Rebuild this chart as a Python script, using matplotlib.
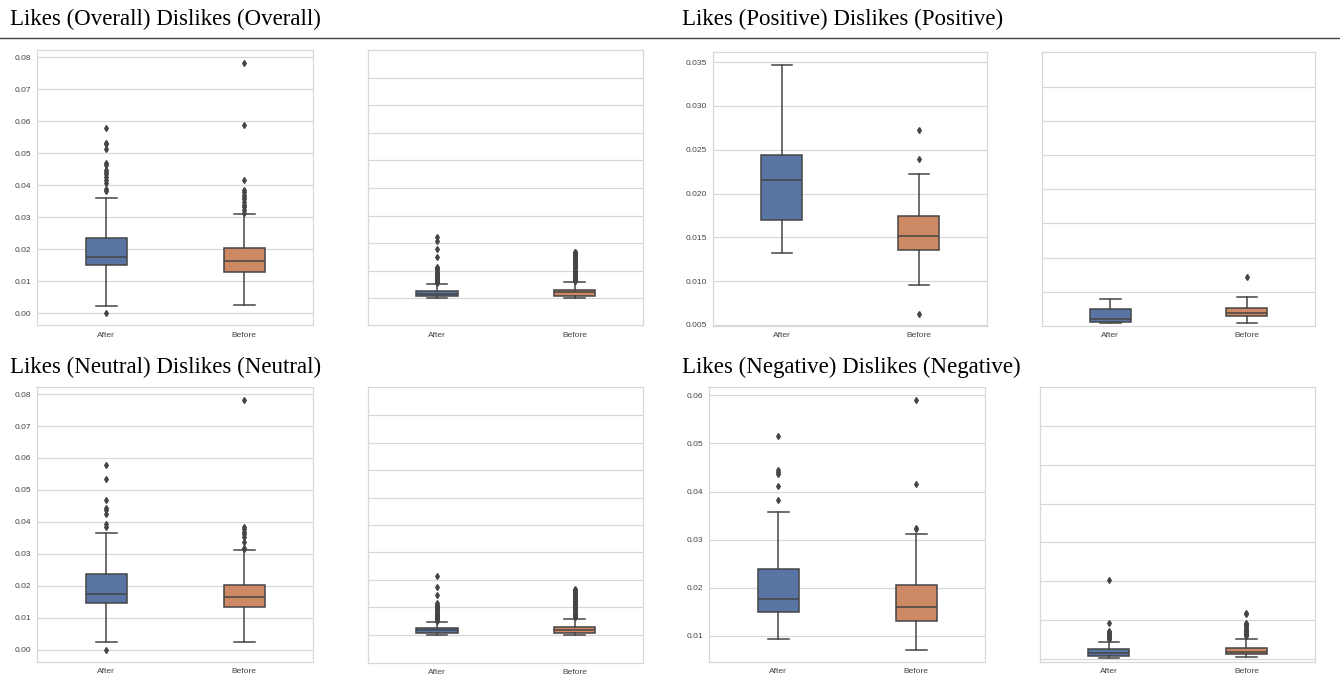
import matplotlib
matplotlib.use('Agg')
import matplotlib.pyplot as plt

# box stats per group: [whisker low, q1, median, q3, whisker high]
groups = ['After', 'Before']

likes_overall = {'After': [0.0023, 0.0149, 0.0176, 0.0234, 0.0361],
                 'Before': [0.0025, 0.0130, 0.0162, 0.0203, 0.0309]}
likes_overall_fliers = {'After': [0.0577, 0.0533, 0.0528, 0.0514, 0.0468, 0.0462, 0.0447, 0.0442,
                                  0.0436, 0.0426, 0.0416, 0.0407, 0.0387, 0.0381, 0.0001],
                        'Before': [0.0782, 0.0589, 0.0416, 0.0384, 0.0377, 0.0369, 0.0362, 0.0355,
                                   0.0347, 0.0338, 0.0330, 0.0322, 0.0314]}

dislikes_overall = {'After': [0.0002, 0.0008, 0.0016, 0.00275, 0.0051],
                    'Before': [0.0002, 0.00094, 0.0021, 0.0030, 0.0058]}
dislikes_overall_fliers = {'After': [0.0223, 0.0209, 0.0178, 0.0149, 0.0114, 0.0109, 0.0105, 0.0101,
                                     0.0097, 0.0093, 0.0090, 0.0086, 0.0083, 0.0080, 0.0077, 0.0074,
                                     0.0071, 0.0068, 0.0065, 0.0062, 0.0060, 0.0058, 0.0056],
                           'Before': [0.0169, 0.0166, 0.0163, 0.0160, 0.0158, 0.0155, 0.0152, 0.0149,
                                      0.0146, 0.0143, 0.0140, 0.0136, 0.0133, 0.0130, 0.0126, 0.0122,
                                      0.0119, 0.0115, 0.0112, 0.0108, 0.0104, 0.0100, 0.0097, 0.0093,
                                      0.0090, 0.0086, 0.0083, 0.0080, 0.0077, 0.0074, 0.0071, 0.0068,
                                      0.0066, 0.0064, 0.0062]}

likes_positive = {'After': [0.0132, 0.0170, 0.0215, 0.0244, 0.0347],
                  'Before': [0.0096, 0.0136, 0.0151, 0.0174, 0.0222]}
likes_positive_fliers = {'After': [],
                         'Before': [0.0272, 0.0239, 0.0063]}

dislikes_positive = {'After': [0.00048, 0.00058, 0.0010, 0.0025, 0.0039],
                     'Before': [0.00048, 0.0015, 0.00185, 0.0026, 0.0043]}
dislikes_positive_fliers = {'After': [],
                            'Before': [0.0071]}

likes_neutral = {'After': [0.0024, 0.0146, 0.0176, 0.0236, 0.0364],
                 'Before': [0.0026, 0.0133, 0.0166, 0.0204, 0.0311]}
likes_neutral_fliers = {'After': [0.0579, 0.0533, 0.0469, 0.0445, 0.0437, 0.0424, 0.0393, 0.0385, 0.0001],
                        'Before': [0.0782, 0.0385, 0.0377, 0.0369, 0.0362, 0.0354, 0.0338, 0.0320, 0.0315]}

dislikes_neutral = {'After': [0.0001, 0.0007, 0.0017, 0.0025, 0.0046],
                    'Before': [0.0001, 0.00085, 0.0019, 0.0028, 0.0057]}
dislikes_neutral_fliers = {'After': [0.0215, 0.0176, 0.0144, 0.0115, 0.0110, 0.0106, 0.0102, 0.0098,
                                     0.0094, 0.0090, 0.0086, 0.0082, 0.0078, 0.0075, 0.0071, 0.0068,
                                     0.0064, 0.0061, 0.0058, 0.0055, 0.0052, 0.0049],
                           'Before': [0.0166, 0.0163, 0.0160, 0.0157, 0.0154, 0.0151, 0.0148, 0.0145,
                                      0.0142, 0.0138, 0.0135, 0.0131, 0.0128, 0.0124, 0.0121, 0.0117,
                                      0.0113, 0.0109, 0.0105, 0.0101, 0.0097, 0.0093, 0.0089, 0.0085,
                                      0.0082, 0.0078, 0.0075, 0.0072, 0.0069, 0.0066, 0.0064]}

likes_negative = {'After': [0.0093, 0.0149, 0.0177, 0.0239, 0.0357],
                  'Before': [0.0071, 0.0130, 0.0160, 0.0206, 0.0312]}
likes_negative_fliers = {'After': [0.0516, 0.0445, 0.0440, 0.0436, 0.0411, 0.0382],
                         'Before': [0.0591, 0.0416, 0.0325, 0.0321]}

dislikes_negative = {'After': [0.00026, 0.00067, 0.0015, 0.0026, 0.0044],
                     'Before': [0.0004, 0.0011, 0.0018, 0.0028, 0.0052]}
dislikes_negative_fliers = {'After': [0.0204, 0.0091, 0.0071, 0.0068, 0.0065, 0.0062, 0.0060,
                                      0.0057, 0.0055, 0.0052, 0.0050],
                            'Before': [0.0118, 0.0115, 0.0092, 0.0089, 0.0086, 0.0083, 0.0080, 0.0077,
                                       0.0074, 0.0071, 0.0068, 0.0065, 0.0063, 0.0060, 0.0058]}

titles = ['Likes (Overall) Dislikes (Overall)', 'Likes (Positive) Dislikes (Positive)',
          'Likes (Neutral) Dislikes (Neutral)', 'Likes (Negative) Dislikes (Negative)']

colors = ['#5975a4', '#cc8963']
line_col = '#454545'
W, H = 1340, 679


def rect(l, t, r, b):
    return [l / W, 1 - b / H, (r - l) / W, (b - t) / H]


def draw(ax, stats, fliers, ylim=None, yticks=None, labels=True):
    bxp_stats = []
    for g in groups:
        lo, q1, med, q3, hi = stats[g]
        bxp_stats.append({'whislo': lo, 'q1': q1, 'med': med, 'q3': q3,
                          'whishi': hi, 'fliers': fliers[g], 'label': g})
    bp = ax.bxp(bxp_stats, positions=[0, 1], widths=0.3, patch_artist=True,
                boxprops=dict(edgecolor=line_col, linewidth=1.1),
                whiskerprops=dict(color=line_col, linewidth=1.1),
                capprops=dict(color=line_col, linewidth=1.1),
                medianprops=dict(color=line_col, linewidth=1.1),
                flierprops=dict(marker='d', markersize=3, markerfacecolor=line_col,
                                markeredgecolor=line_col, linestyle='none'))
    for patch, c in zip(bp['boxes'], colors):
        patch.set_facecolor(c)
    ax.set_xlim(-0.5, 1.5)
    if ylim is not None:
        ax.set_ylim(*ylim)
    if yticks is not None:
        ax.set_yticks(yticks)
    ax.set_facecolor('white')
    ax.grid(axis='y', color='#d8d8d8', linewidth=0.9)
    ax.set_axisbelow(True)
    for s in ax.spines.values():
        s.set_color('#d8d8d8')
        s.set_linewidth(0.9)
    ax.tick_params(length=0, labelsize=6, labelcolor='#444444', pad=4.5)
    if not labels:
        ax.set_yticklabels([])


fig = plt.figure(figsize=(13.4, 6.79), dpi=100)

ax1 = fig.add_axes(rect(37.3, 50.3, 313.3, 325.3))
draw(ax1, likes_overall, likes_overall_fliers)
ax1.set_yticks([0.0, 0.01, 0.02, 0.03, 0.04, 0.05, 0.06, 0.07, 0.08])
ax1.set_yticklabels(['0.00', '0.01', '0.02', '0.03', '0.04', '0.05', '0.06', '0.07', '0.08'])

ax2 = fig.add_axes(rect(368.3, 50.3, 643.3, 325.3))
draw(ax2, dislikes_overall, dislikes_overall_fliers, ylim=(-0.0098, 0.0899),
     yticks=[0, 0.01, 0.02, 0.03, 0.04, 0.05, 0.06, 0.07, 0.08], labels=False)

ax3 = fig.add_axes(rect(713.3, 52.3, 987.3, 326))
draw(ax3, likes_positive, likes_positive_fliers)
ax3.set_yticks([0.005, 0.010, 0.015, 0.020, 0.025, 0.030, 0.035])
ax3.set_yticklabels(['0.005', '0.010', '0.015', '0.020', '0.025', '0.030', '0.035'])

ax4 = fig.add_axes(rect(1042, 52.3, 1315.3, 326))
draw(ax4, dislikes_positive, dislikes_positive_fliers, ylim=(0, 0.04),
     yticks=[0.005, 0.01, 0.015, 0.02, 0.025, 0.03, 0.035], labels=False)

ax5 = fig.add_axes(rect(37.3, 387.3, 313.3, 662))
draw(ax5, likes_neutral, likes_neutral_fliers)
ax5.set_yticks([0.0, 0.01, 0.02, 0.03, 0.04, 0.05, 0.06, 0.07, 0.08])
ax5.set_yticklabels(['0.00', '0.01', '0.02', '0.03', '0.04', '0.05', '0.06', '0.07', '0.08'])

ax6 = fig.add_axes(rect(368.3, 387.3, 643.3, 662.7))
draw(ax6, dislikes_neutral, dislikes_neutral_fliers, ylim=(-0.0101, 0.0901),
     yticks=[0, 0.01, 0.02, 0.03, 0.04, 0.05, 0.06, 0.07, 0.08], labels=False)

ax7 = fig.add_axes(rect(709.3, 387.3, 985.3, 662))
draw(ax7, likes_negative, likes_negative_fliers)
ax7.set_yticks([0.01, 0.02, 0.03, 0.04, 0.05, 0.06])
ax7.set_yticklabels(['0.01', '0.02', '0.03', '0.04', '0.05', '0.06'])

ax8 = fig.add_axes(rect(1040, 387.3, 1315.3, 662))
draw(ax8, dislikes_negative, dislikes_negative_fliers, ylim=(-0.00086, 0.07),
     yticks=[0, 0.01, 0.02, 0.03, 0.04, 0.05, 0.06], labels=False)

for ax in [ax1, ax2, ax3, ax4, ax5, ax6, ax7, ax8]:
    for t in ax.get_xticklabels() + ax.get_yticklabels():
        t.set_fontfamily('Liberation Sans')

# panel headings
fig.text(10 / W, 1 - 25 / H, titles[0], fontsize=16.5, family='Liberation Serif', va='baseline')
fig.text(682 / W, 1 - 25 / H, titles[1], fontsize=16.5, family='Liberation Serif', va='baseline')
fig.text(10 / W, 1 - 373.3 / H, titles[2], fontsize=16.5, family='Liberation Serif', va='baseline')
fig.text(682 / W, 1 - 373.3 / H, titles[3], fontsize=16.5, family='Liberation Serif', va='baseline')

fig.add_artist(plt.Line2D([0, 1], [1 - 37.7 / H, 1 - 37.7 / H], color='#444444', linewidth=1.0))

fig.savefig('out.png', dpi=100)
